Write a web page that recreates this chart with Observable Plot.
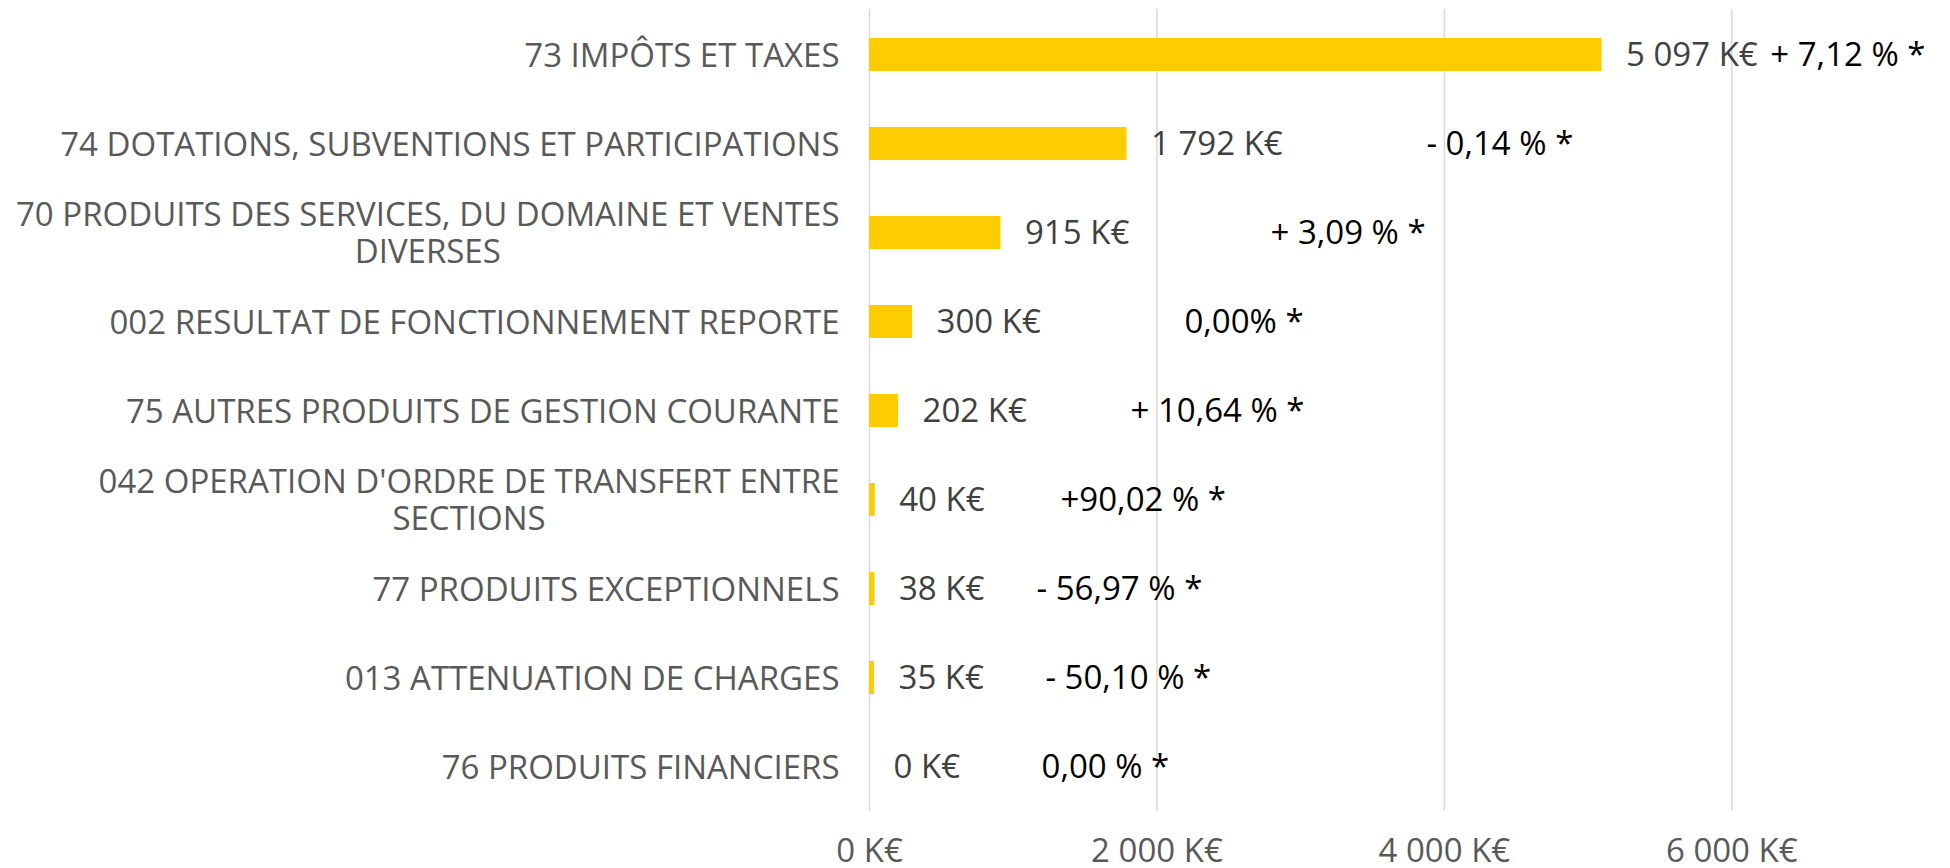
<!DOCTYPE html>
<html>
<head>
<meta charset="utf-8">
<script src="https://cdn.jsdelivr.net/npm/d3@7"></script>
<script src="https://cdn.jsdelivr.net/npm/@observablehq/plot@0.6"></script>
<style>
  html, body { margin: 0; padding: 0; background: #ffffff; }
  #chart svg { display: block; }
</style>
</head>
<body>
<div id="chart"></div>
<script>
const categories = [
  "73 IMPÔTS ET TAXES",
  "74 DOTATIONS, SUBVENTIONS ET PARTICIPATIONS",
  "70 PRODUITS DES SERVICES, DU DOMAINE ET VENTES\nDIVERSES",
  "002 RESULTAT DE FONCTIONNEMENT REPORTE",
  "75 AUTRES PRODUITS DE GESTION COURANTE",
  "042 OPERATION D'ORDRE DE TRANSFERT ENTRE\nSECTIONS",
  "77 PRODUITS EXCEPTIONNELS",
  "013 ATTENUATION DE CHARGES",
  "76 PRODUITS FINANCIERS"
];
const values = [5097, 1792, 915, 300, 202, 40, 38, 35, 0];
const changes = ["+ 7,12 % *", "- 0,14 % *", "+ 3,09 % *", "0,00% *", "+ 10,64 % *", "+90,02 % *", "- 56,97 % *", "- 50,10 % *", "0,00 % *"];
// where each change annotation starts, in K€ along the x axis
const changeAt = [6268, 3875, 2790, 2191, 1816, 1329, 1162, 1224, 1197];
const xTicks = [0, 2000, 4000, 6000];

const fmtK = v => d3.format(",")(v).replace(/,/g, " ") + " K€";
const rows = categories.map((c, i) => ({cat: c, value: values[i], change: changes[i], at: changeAt[i]}));

const W = 1950, H = 868;
const FONT = "'Open Sans', 'Noto Sans', sans-serif";

const chart = Plot.plot({
  width: W,
  height: H,
  marginLeft: 869,
  marginRight: 75,
  marginTop: 9,
  marginBottom: 57,
  style: {fontFamily: FONT, fontSize: "33px", background: "#ffffff", overflow: "visible"},
  x: {domain: [0, 7000], ticks: xTicks, axis: null},
  y: {domain: categories, paddingInner: 0.63, paddingOuter: 0.315, axis: null},
  marks: [
    Plot.gridX(xTicks, {stroke: "#d9d9d9", strokeOpacity: 1, strokeWidth: 1.5}),
    Plot.barX(rows, {x: "value", y: "cat", fill: "#FFCC00"}),
    Plot.text(rows, {x: "value", y: "cat", text: d => fmtK(d.value), textAnchor: "start", dx: 24, fill: "#404040", fontSize: 33, lineAnchor: "middle"}),
    Plot.text(rows, {x: "at", y: "cat", text: "change", textAnchor: "start", fill: "#000000", fontSize: 33, lineAnchor: "middle"}),
    Plot.text(rows, {y: "cat", text: "cat", frameAnchor: "left", textAnchor: "end", dx: -30, fill: "#595959", fontSize: 33, lineAnchor: "middle", lineHeight: 1.1}),
    Plot.axisX(xTicks, {tickSize: 0, tickPadding: 27, tickFormat: fmtK, fill: "#595959", fontSize: 33, anchor: "bottom"})
  ]
});

document.getElementById("chart").appendChild(chart);

// centre the second line of the wrapped category labels under the first, like the original
function centreLines() {
  chart.querySelectorAll("text").forEach(t => {
    const spans = t.querySelectorAll("tspan");
    if (spans.length > 1) {
      const w1 = spans[0].getComputedTextLength();
      for (let k = 1; k < spans.length; k++) {
        const wk = spans[k].getComputedTextLength();
        spans[k].setAttribute("x", String(-(w1 - wk) / 2));
      }
    }
  });
}
centreLines();
if (document.fonts && document.fonts.ready) document.fonts.ready.then(centreLines);
</script>
</body>
</html>
